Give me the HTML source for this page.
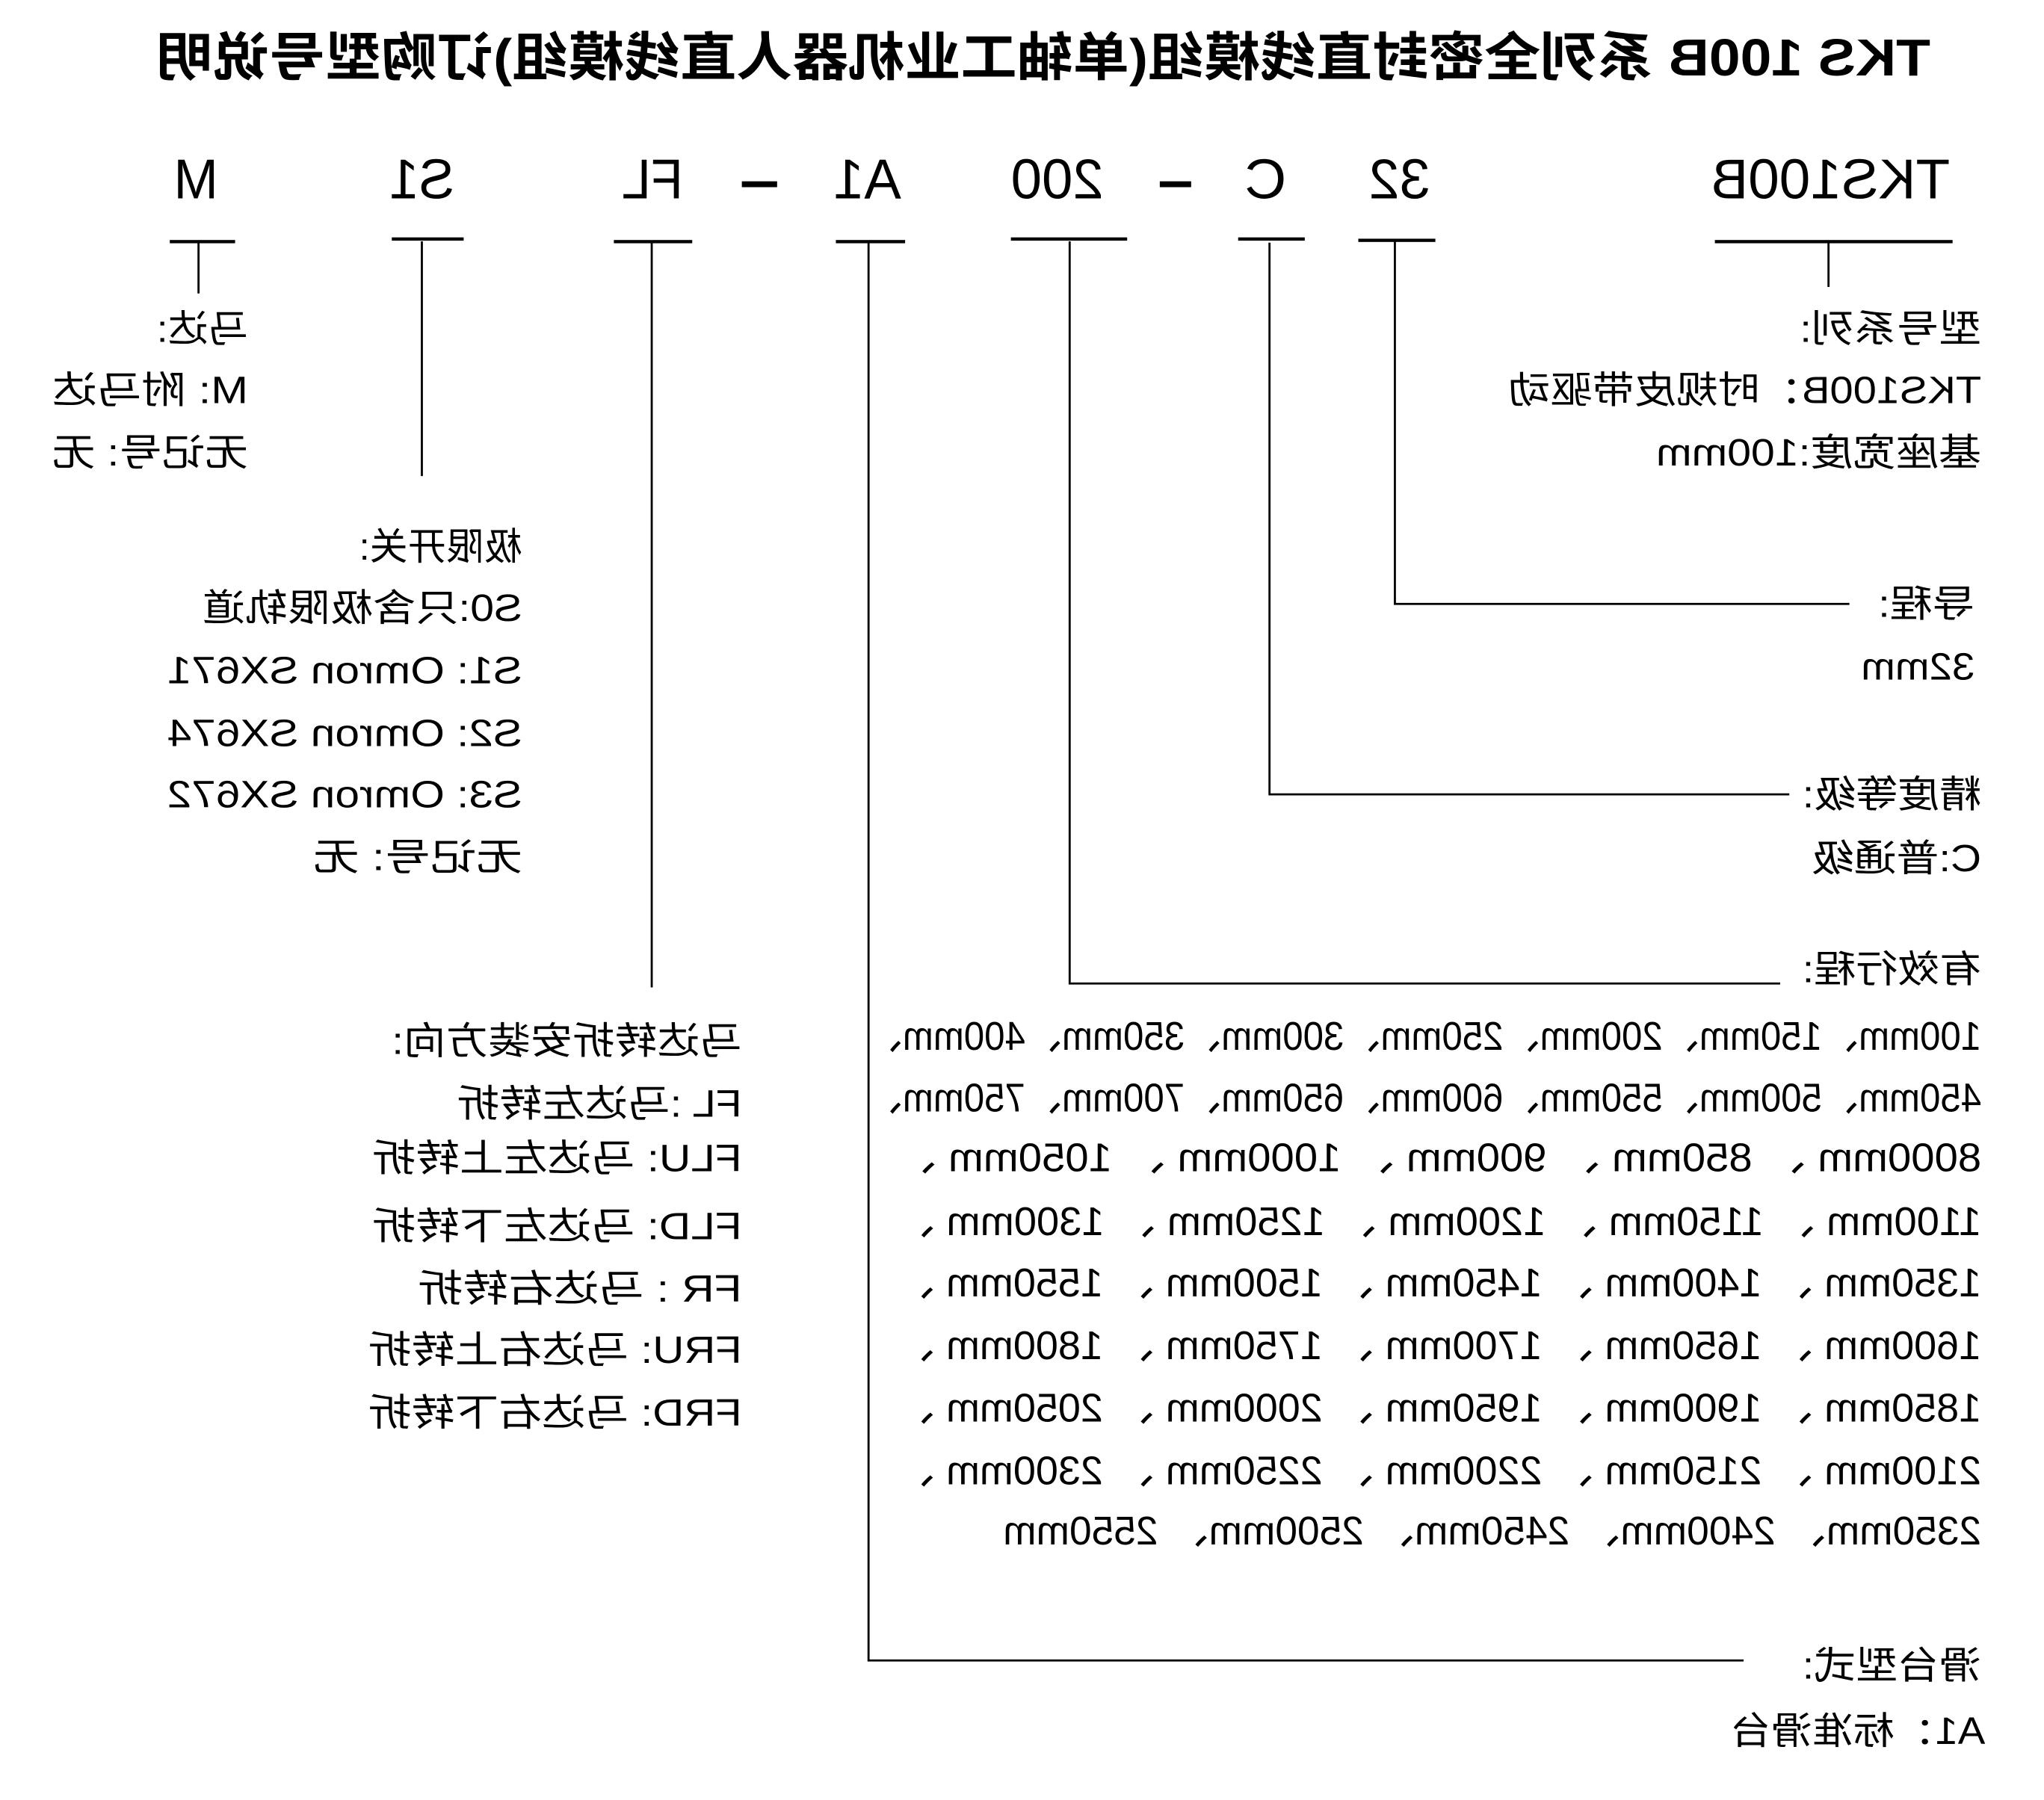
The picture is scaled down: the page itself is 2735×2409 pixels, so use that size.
<!DOCTYPE html>
<html><head><meta charset="utf-8"><style>
html,body{margin:0;padding:0;background:#fff;}
svg{display:block;}
text{font-family:"Liberation Sans","Noto Sans CJK SC",sans-serif;fill:#000;}
</style></head><body>
<svg width="2735" height="2409" viewBox="0 0 1565 1380" preserveAspectRatio="none" xmlns="http://www.w3.org/2000/svg">
<rect width="1565" height="1380" fill="#fff"/>
<g transform="translate(1552,0) scale(-1,1)">
<text x="74" y="58" font-size="40" font-weight="bold" textLength="1358" lengthAdjust="spacingAndGlyphs">TKS 100B  系列全密封直线模组(单轴工业机器人直线模组)订购型号说明</text>

<g font-size="43">
<text x="1385" y="152" textLength="34" lengthAdjust="spacingAndGlyphs">M</text>
<text x="1204" y="152" textLength="50" lengthAdjust="spacingAndGlyphs">S1</text>
<text x="1029" y="152" textLength="47" lengthAdjust="spacingAndGlyphs">FL</text>
<text x="862" y="152" textLength="52" lengthAdjust="spacingAndGlyphs">A1</text>
<text x="707" y="152" textLength="71" lengthAdjust="spacingAndGlyphs">200</text>
<text x="567" y="152" textLength="32" lengthAdjust="spacingAndGlyphs">C</text>
<text x="457" y="152" textLength="47" lengthAdjust="spacingAndGlyphs">32</text>
<text x="59" y="152" textLength="183" lengthAdjust="spacingAndGlyphs">TKS100B</text>
</g>
<rect x="957" y="139" width="27" height="4.5"/>
<rect x="640" y="139" width="24" height="4.5"/>

<g fill="#000">
<rect x="1372" y="184" width="50" height="2.5"/>
<rect x="1197" y="182" width="55" height="2.5"/>
<rect x="1022" y="184" width="60" height="2.5"/>
<rect x="859" y="184" width="53" height="2.5"/>
<rect x="689" y="182" width="89" height="2.5"/>
<rect x="553" y="182" width="51" height="2.5"/>
<rect x="453" y="183" width="59" height="2.5"/>
<rect x="57" y="184" width="182" height="2.5"/>
</g>
<g stroke="#000" stroke-width="1.6" fill="none">
<line x1="1400" y1="185" x2="1400" y2="225"/>
<line x1="1229" y1="185" x2="1229" y2="365"/>
<line x1="1053" y1="185" x2="1053" y2="757"/>
<polyline points="887,185 887,1273 217,1273"/>
<polyline points="733,185 733,754 189,754"/>
<polyline points="580,186 580,609 182,609"/>
<polyline points="484,185 484,463 136,463"/>
<line x1="152" y1="185" x2="152" y2="220"/>
</g>

<g font-size="29">
<text x="35" y="262" textLength="139" lengthAdjust="spacingAndGlyphs">型号系列:</text>
<text x="35" y="309" textLength="362" lengthAdjust="spacingAndGlyphs">TKS100B：时规皮带驱动</text>
<text x="35" y="357" textLength="249" lengthAdjust="spacingAndGlyphs">基座宽度:100mm</text>
<text x="40" y="473" textLength="74" lengthAdjust="spacingAndGlyphs">导程:</text>
<text x="40" y="521" textLength="87" lengthAdjust="spacingAndGlyphs">32mm</text>
<text x="35" y="619" textLength="137" lengthAdjust="spacingAndGlyphs">精度等级:</text>
<text x="35" y="668" textLength="130" lengthAdjust="spacingAndGlyphs">C:普通级</text>
<text x="35" y="753" textLength="137" lengthAdjust="spacingAndGlyphs">有效行程:</text>
<text x="35" y="1287" textLength="137" lengthAdjust="spacingAndGlyphs">滑台型式:</text>
<text x="32" y="1337" textLength="195" lengthAdjust="spacingAndGlyphs">A1：标准滑台</text>

<text x="1362" y="262" textLength="70" lengthAdjust="spacingAndGlyphs">马达:</text>
<text x="1362" y="309" textLength="150" lengthAdjust="spacingAndGlyphs">M:  附马达</text>
<text x="1362" y="357" textLength="150" lengthAdjust="spacingAndGlyphs">无记号:  无</text>

<text x="1152" y="429" textLength="125" lengthAdjust="spacingAndGlyphs">极限开关:</text>
<text x="1152" y="476" textLength="245" lengthAdjust="spacingAndGlyphs">S0:只含极限轨道</text>
<text x="1152" y="524" textLength="272" lengthAdjust="spacingAndGlyphs">S1:  Omron SX671</text>
<text x="1152" y="572" textLength="272" lengthAdjust="spacingAndGlyphs">S2:  Omron SX674</text>
<text x="1152" y="619" textLength="272" lengthAdjust="spacingAndGlyphs">S3:  Omron SX672</text>
<text x="1152" y="667" textLength="160" lengthAdjust="spacingAndGlyphs">无记号:  无</text>

<text x="984" y="808" textLength="268" lengthAdjust="spacingAndGlyphs">马达转折安装方向:</text>
<text x="984" y="856" textLength="218" lengthAdjust="spacingAndGlyphs">FL :马达左转折</text>
<text x="984" y="898" textLength="283" lengthAdjust="spacingAndGlyphs">FLU:  马达左上转折</text>
<text x="984" y="950" textLength="283" lengthAdjust="spacingAndGlyphs">FLD:  马达左下转折</text>
<text x="984" y="998" textLength="248" lengthAdjust="spacingAndGlyphs">FR :  马达右转折</text>
<text x="984" y="1045" textLength="286" lengthAdjust="spacingAndGlyphs">FRU:  马达右上转折</text>
<text x="984" y="1093" textLength="286" lengthAdjust="spacingAndGlyphs">FRD:  马达右下转折</text>
</g>

<g font-size="31">
<text x="35" y="805" textLength="854" lengthAdjust="spacingAndGlyphs">100mm、150mm、200mm、250mm、300mm、350mm、400mm、</text>
<text x="35" y="852" textLength="854" lengthAdjust="spacingAndGlyphs">450mm、500mm、550mm、600mm、650mm、700mm、750mm、</text>
<text x="35" y="898" textLength="832" lengthAdjust="spacingAndGlyphs">8000mm 、 850mm 、 900mm 、 1000mm 、 1050mm 、</text>
<text x="35" y="947" textLength="832" lengthAdjust="spacingAndGlyphs">1100mm 、 1150mm 、 1200mm 、 1250mm 、 1300mm 、</text>
<text x="35" y="994" textLength="832" lengthAdjust="spacingAndGlyphs">1350mm 、 1400mm 、 1450mm 、 1500mm 、 1550mm 、</text>
<text x="35" y="1042" textLength="832" lengthAdjust="spacingAndGlyphs">1600mm 、 1650mm 、 1700mm 、 1750mm 、 1800mm 、</text>
<text x="35" y="1090" textLength="832" lengthAdjust="spacingAndGlyphs">1850mm 、 1900mm 、 1950mm 、 2000mm 、 2050mm 、</text>
<text x="35" y="1138" textLength="832" lengthAdjust="spacingAndGlyphs">2100mm 、 2150mm 、 2200mm 、 2250mm 、 2300mm 、</text>
<text x="35" y="1184" textLength="749" lengthAdjust="spacingAndGlyphs">2350mm、 2400mm、 2450mm、 2500mm、 2550mm</text>
</g>
</g>
</svg>
</body></html>
